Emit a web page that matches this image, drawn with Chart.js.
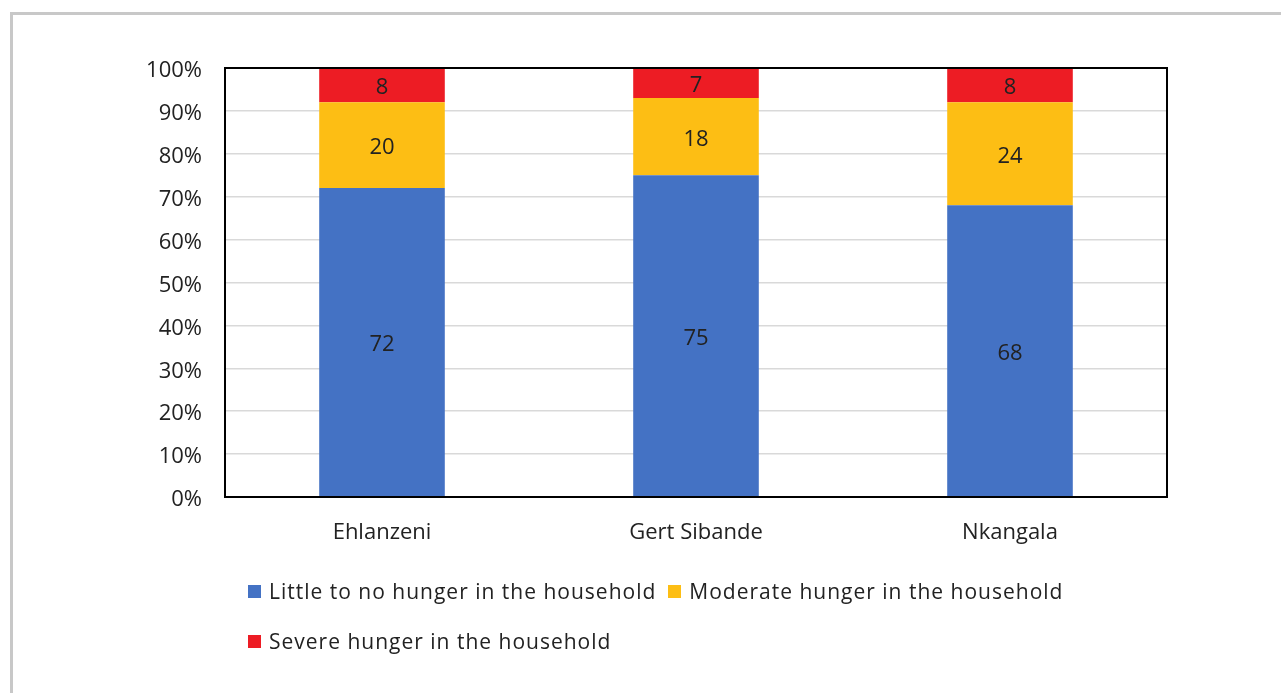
<!DOCTYPE html>
<html>
<head>
<meta charset="utf-8">
<title>Hunger in the household by district</title>
<script src="https://cdn.jsdelivr.net/npm/chart.js@4.4.0/dist/chart.umd.min.js"></script>
<style>
  html, body { margin: 0; padding: 0; background: #fff; }
  #wrap { position: relative; width: 1281px; height: 693px; overflow: hidden; }
  #frame {
    position: absolute; left: 10px; top: 12px; right: -10px; bottom: -10px;
    border-left: 3px solid #c8c8c8; border-top: 3px solid #c8c8c8;
  }
  #chart { position: absolute; left: 0; top: 0; }
  #legend {
    position: absolute; left: 248px; top: 574px; width: 900px;
    font-family: "Open Sans", "Liberation Sans", sans-serif; font-size: 21px;
    letter-spacing: 1px; color: #222;
  }
  .legend-item { display: inline-flex; align-items: center; height: 34px; margin-right: 12px; margin-bottom: 16px; }
  .legend-box { width: 13px; height: 13px; margin-right: 8px; }
</style>
</head>
<body>
<div id="wrap">
  <div id="frame"></div>
  <canvas id="chart" width="1281" height="693"></canvas>
  <div id="legend"></div>
</div>
<script>
// Districts and hunger shares (percent of households)
const districts = ['Ehlanzeni', 'Gert Sibande', 'Nkangala'];
const littleHunger = [72, 75, 68];
const moderateHunger = [20, 18, 24];
const severeHunger = [8, 7, 8];
const yTicks = [0, 10, 20, 30, 40, 50, 60, 70, 80, 90, 100];

const seriesNames = [
    'Little to no hunger in the household',
    'Moderate hunger in the household',
    'Severe hunger in the household'
];
const seriesColors = ['#4472c4', '#fdbe14', '#ed1c24'];

const fontFamily = '"Open Sans", "Liberation Sans", sans-serif';
const textColor = '#222';

// Draw the value in the middle of each bar segment
const segmentLabels = {
    id: 'segmentLabels',
    afterDatasetsDraw(chart) {
        const ctx = chart.ctx;
        ctx.save();
        ctx.font = '22px ' + fontFamily;
        ctx.fillStyle = textColor;
        ctx.textAlign = 'center';
        ctx.textBaseline = 'middle';
        chart.data.datasets.forEach((ds, i) => {
            chart.getDatasetMeta(i).data.forEach((bar, j) => {
                const p = bar.getProps(['x', 'y', 'base'], true);
                ctx.fillText(ds.data[j], p.x, (p.y + p.base) / 2 + 3);
            });
        });
        ctx.restore();
    }
};

// Black frame round the plot area
const plotFrame = {
    id: 'plotFrame',
    afterDraw(chart) {
        const a = chart.chartArea;
        const ctx = chart.ctx;
        ctx.save();
        ctx.strokeStyle = '#000';
        ctx.lineWidth = 2;
        ctx.strokeRect(a.left, a.top, a.right - a.left, a.bottom - a.top);
        ctx.restore();
    }
};

const ctx = document.getElementById('chart').getContext('2d');
const chart = new Chart(ctx, {
    type: 'bar',
    data: {
        labels: districts,
        datasets: [
            { label: seriesNames[0], data: littleHunger, backgroundColor: seriesColors[0] },
            { label: seriesNames[1], data: moderateHunger, backgroundColor: seriesColors[1] },
            { label: seriesNames[2], data: severeHunger, backgroundColor: seriesColors[2] }
        ]
    },
    options: {
        responsive: false,
        animation: false,
        layout: { padding: { left: 0, top: 68, right: 114, bottom: 0 } },
        datasets: { bar: { categoryPercentage: 1, barPercentage: 0.4 } },
        plugins: { legend: { display: false }, tooltip: { enabled: false } },
        scales: {
            x: {
                stacked: true,
                grid: { display: false, drawTicks: false },
                border: { display: false },
                ticks: { color: textColor, font: { family: fontFamily, size: 22 }, padding: 23 },
                afterFit(scale) { scale.height = 196; }
            },
            y: {
                stacked: true,
                min: 0,
                max: 100,
                afterBuildTicks(scale) { scale.ticks = yTicks.map(v => ({ value: v })); },
                grid: { color: '#d9d9d9', lineWidth: 1.5, drawTicks: false },
                border: { display: false },
                ticks: {
                    color: textColor,
                    font: { family: fontFamily, size: 22 },
                    padding: 23,
                    labelOffset: 3,
                    callback: v => v + '%'
                },
                afterFit(scale) { scale.width = 225; }
            }
        }
    },
    plugins: [segmentLabels, plotFrame]
});

// Legend laid out as wrapped rows starting from the left
const legend = document.getElementById('legend');
chart.data.datasets.forEach(ds => {
    const item = document.createElement('span');
    item.className = 'legend-item';
    const box = document.createElement('span');
    box.className = 'legend-box';
    box.style.background = ds.backgroundColor;
    const text = document.createElement('span');
    text.textContent = ds.label;
    item.appendChild(box);
    item.appendChild(text);
    legend.appendChild(item);
});
</script>
</body>
</html>
